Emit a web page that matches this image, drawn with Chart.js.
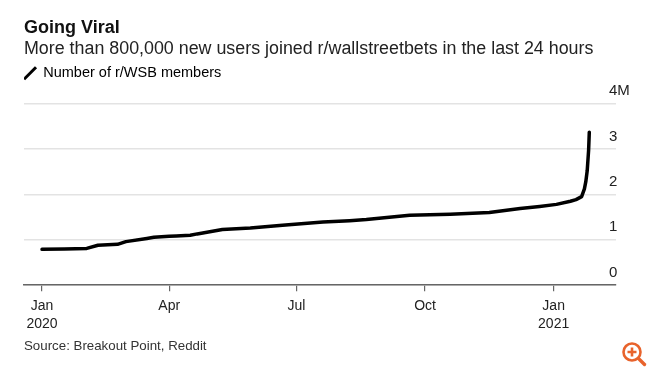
<!DOCTYPE html>
<html>
<head>
<meta charset="utf-8">
<title>Going Viral</title>
<script src="https://cdn.jsdelivr.net/npm/chart.js@4"></script>
<style>
    html, body { margin: 0; padding: 0; background: #fff; }
    #wrap { position: relative; width: 650px; height: 370px; overflow: hidden; }
    #zoomIcon { position: absolute; left: 621px; top: 341px; }
</style>
</head>
<body>
<div id="wrap">
    <canvas id="lineChart" width="650" height="370"></canvas>
    <svg id="zoomIcon" width="26" height="26" viewBox="0 0 26 26">
        <circle cx="11" cy="11" r="8.5" fill="none" stroke="#e8632c" stroke-width="2.6"/>
        <path d="M11 6.5v9M6.5 11h9" stroke="#e8632c" stroke-width="2.6"/>
        <path d="M17.5 17.5l6 6" stroke="#e8632c" stroke-width="3.4" stroke-linecap="round"/>
    </svg>
</div>
<script>
    // Values
    const dates = ['2020-01-01', '2020-01-17', '2020-02-02', '2020-02-10', '2020-02-24', '2020-03-01',
        '2020-03-16', '2020-03-21', '2020-04-01', '2020-04-06', '2020-04-16', '2020-04-21', '2020-05-09',
        '2020-05-29', '2020-06-21', '2020-07-20', '2020-08-08', '2020-08-20', '2020-09-20', '2020-10-19',
        '2020-11-16', '2020-12-08', '2020-12-22', '2021-01-03', '2021-01-13', '2021-01-17', '2021-01-21',
        '2021-01-23', '2021-01-24', '2021-01-25', '2021-01-26', '2021-01-26T12:00:00Z'];
    const members = [0.79, 0.80, 0.81, 0.88, 0.90, 0.96, 1.03, 1.055, 1.08, 1.085, 1.10, 1.13, 1.225,
        1.26, 1.32, 1.39, 1.42, 1.445, 1.54, 1.565, 1.60, 1.69, 1.735, 1.78, 1.85, 1.885, 1.95,
        2.12, 2.28, 2.52, 2.97, 3.37];
    const xTickDates = ['2020-01-01', '2020-04-01', '2020-07-01', '2020-10-01', '2021-01-01'];
    const xTickLabels = [['Jan', '2020'], ['Apr'], ['Jul'], ['Oct'], ['Jan', '2021']];
    const yTicks = [0, 1, 2, 3, 4];
    const yTickLabels = ['0', '1', '2', '3', '4M'];

    const dayOf = (d) => (Date.parse(d) - Date.parse('2020-01-01')) / 86400000;
    const fontFamily = '"Liberation Sans", Arial, sans-serif';

    // y labels sit above their gridlines, at the right end
    const yLabelPlugin = {
        id: 'y_labels_above_grid',
        afterDraw(chart) {
            const ctx = chart.ctx;
            const y = chart.scales.y;
            ctx.save();
            ctx.font = `15px ${fontFamily}`;
            ctx.fillStyle = '#222';
            ctx.textAlign = 'left';
            ctx.textBaseline = 'middle';
            yTicks.forEach((v, i) => {
                ctx.fillText(yTickLabels[i], 609, y.getPixelForValue(v) - 12.5);
            });
            ctx.restore();
        }
    };

    // room between the legend and the top gridline
    const legendGapPlugin = {
        id: 'legend_gap',
        beforeInit(chart) {
            const fit = chart.legend.fit;
            chart.legend.fit = function () {
                fit.call(this);
                this.height += 13;
            };
        }
    };

    new Chart(document.getElementById('lineChart').getContext('2d'), {
        type: 'line',
        data: {
            datasets: [{
                label: 'Number of r/WSB members',
                data: dates.map((d, i) => ({ x: dayOf(d), y: members[i] })),
                borderColor: '#000',
                borderWidth: 3.5,
                borderCapStyle: 'round',
                borderJoinStyle: 'round',
                pointRadius: 0,
                tension: 0
            }]
        },
        options: {
            responsive: false,
            animation: false,
            layout: { padding: { left: 24, right: 34, top: 17, bottom: 16 } },
            plugins: {
                tooltip: { enabled: false },
                title: {
                    display: true,
                    text: 'Going Viral',
                    align: 'start',
                    color: '#111',
                    font: { family: fontFamily, size: 18, weight: 'bold' },
                    padding: { top: 0, bottom: 0 }
                },
                subtitle: {
                    display: true,
                    text: 'More than 800,000 new users joined r/wallstreetbets in the last 24 hours',
                    align: 'start',
                    color: '#222',
                    font: { family: fontFamily, size: 17.85 },
                    padding: { top: 0, bottom: 6 }
                },
                legend: {
                    display: true,
                    position: 'top',
                    align: 'start',
                    labels: {
                        color: '#222',
                        font: { family: fontFamily, size: 14.5 },
                        usePointStyle: true,
                        padding: 0,
                        boxWidth: 12,
                        boxHeight: 12,
                        generateLabels: (chart) => [{
                            text: chart.data.datasets[0].label,
                            pointStyle: 'line',
                            rotation: -45,
                            strokeStyle: '#000',
                            fillStyle: '#000',
                            lineWidth: 3,
                            datasetIndex: 0
                        }]
                    }
                }
            },
            scales: {
                x: {
                    type: 'linear',
                    min: -12.9,
                    max: 410.6,
                    afterBuildTicks(scale) {
                        scale.ticks = xTickDates.map((d) => ({ value: dayOf(d) }));
                    },
                    border: { color: '#666', width: 1.5 },
                    grid: { drawOnChartArea: false, color: '#666', lineWidth: 1.2, tickLength: 6 },
                    ticks: {
                        autoSkip: false,
                        maxRotation: 0,
                        color: '#222',
                        font: { family: fontFamily, size: 14, lineHeight: 1.35 },
                        padding: 5,
                        callback: (value, index) => xTickLabels[index]
                    },
                    title: {
                        display: true,
                        text: 'Source: Breakout Point, Reddit',
                        align: 'start',
                        color: '#333',
                        font: { family: fontFamily, size: 13.3 },
                        padding: { top: -1, bottom: 0 }
                    }
                },
                y: {
                    position: 'right',
                    min: 0,
                    max: 4,
                    afterBuildTicks(scale) {
                        scale.ticks = yTicks.map((v) => ({ value: v }));
                    },
                    afterFit(scale) {
                        scale.width = 0;
                    },
                    border: { display: false },
                    grid: { color: '#e3e3e3', lineWidth: 1.5, drawTicks: false },
                    ticks: { display: false }
                }
            }
        },
        plugins: [yLabelPlugin, legendGapPlugin]
    });
</script>
</body>
</html>
